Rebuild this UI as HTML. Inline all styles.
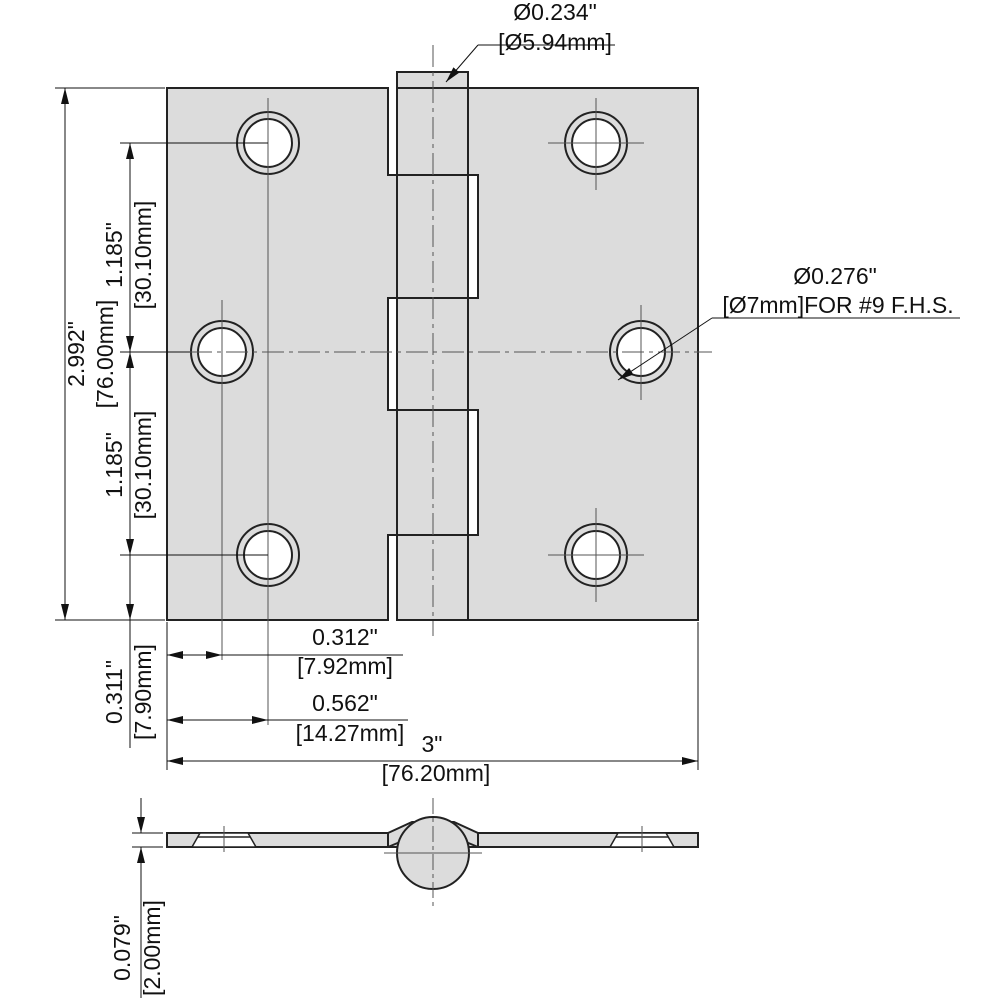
<!DOCTYPE html>
<html><head><style>
html,body{margin:0;padding:0;background:#fff;}
svg{display:block;}
text{font-family:"Liberation Sans",Arial,sans-serif;font-size:23px;fill:#111;}
</style></head><body>
<svg width="1000" height="1000" viewBox="0 0 1000 1000" xmlns="http://www.w3.org/2000/svg">
<defs>
<marker id="a" viewBox="0 0 16 8" refX="16" refY="4" markerWidth="16" markerHeight="8" orient="auto-start-reverse" markerUnits="userSpaceOnUse"><path d="M0,0 L16,4 L0,8 Z" fill="#111"/></marker>
</defs>
<g stroke="#222" stroke-width="2" fill="#dcdcdc">
<path d="M167,88 H388 V175 H397 V298 H388 V410 H397 V535 H388 V620 H167 Z"/>
<path d="M468,88 H698 V620 H468 V535 H478 V410 H468 V298 H478 V175 H468 Z"/>
<rect x="397" y="72" width="71" height="548"/>
<line x1="397" y1="88" x2="468" y2="88"/>
<line x1="397" y1="175" x2="478" y2="175"/>
<line x1="388" y1="298" x2="478" y2="298"/>
<line x1="388" y1="410" x2="478" y2="410"/>
<line x1="397" y1="535" x2="478" y2="535"/>
</g>
<g stroke="#222" stroke-width="2">
<g fill="#dcdcdc">
<circle cx="268" cy="143" r="31"/><circle cx="596" cy="143" r="31"/>
<circle cx="222" cy="352" r="31"/><circle cx="641" cy="352" r="31"/>
<circle cx="268" cy="555" r="31"/><circle cx="596" cy="555" r="31"/>
</g>
<g fill="#fff">
<circle cx="268" cy="143" r="24"/><circle cx="596" cy="143" r="24"/>
<circle cx="222" cy="352" r="24"/><circle cx="641" cy="352" r="24"/>
<circle cx="268" cy="555" r="24"/><circle cx="596" cy="555" r="24"/>
</g>
</g>
<g stroke="#555" stroke-width="1" fill="none">
<line x1="190" y1="352" x2="712" y2="352" stroke-dasharray="22,5,4,5"/>
<line x1="433" y1="45" x2="433" y2="636" stroke-dasharray="22,5,4,5"/>
<line x1="222" y1="300" x2="222" y2="660"/><line x1="268" y1="98" x2="268" y2="725"/>
<line x1="596" y1="98" x2="596" y2="190"/><line x1="548" y1="143" x2="644" y2="143"/>
<line x1="596" y1="508" x2="596" y2="602"/><line x1="548" y1="555" x2="644" y2="555"/>
<line x1="641" y1="305" x2="641" y2="400"/>
</g>
<g stroke="#111" stroke-width="1" fill="none">
<line x1="55" y1="88" x2="165" y2="88"/><line x1="55" y1="620" x2="165" y2="620"/>
<line x1="65" y1="88" x2="65" y2="620" marker-start="url(#a)" marker-end="url(#a)"/>
<line x1="120" y1="143" x2="268" y2="143"/><line x1="120" y1="352" x2="190" y2="352"/><line x1="120" y1="555" x2="268" y2="555"/>
<line x1="130" y1="143" x2="130" y2="352" marker-start="url(#a)" marker-end="url(#a)"/>
<line x1="130" y1="352" x2="130" y2="555" marker-start="url(#a)" marker-end="url(#a)"/>
<line x1="130" y1="555" x2="130" y2="748"/>
<line x1="130" y1="588" x2="130" y2="620" marker-end="url(#a)"/>
<line x1="167" y1="622" x2="167" y2="770"/><line x1="698" y1="622" x2="698" y2="770"/>
<line x1="167" y1="655" x2="222" y2="655" marker-start="url(#a)" marker-end="url(#a)"/>
<line x1="222" y1="655" x2="403" y2="655"/>
<line x1="167" y1="720" x2="268" y2="720" marker-start="url(#a)" marker-end="url(#a)"/>
<line x1="268" y1="720" x2="408" y2="720"/>
<line x1="167" y1="761" x2="698" y2="761" marker-start="url(#a)" marker-end="url(#a)"/>
<line x1="615" y1="45" x2="478" y2="45"/><line x1="478" y1="45" x2="446" y2="82" marker-end="url(#a)"/>
<line x1="960" y1="318" x2="712" y2="318"/><line x1="712" y1="318" x2="618" y2="380" marker-end="url(#a)"/>
</g>
<text x="555" y="20" text-anchor="middle">Ø0.234"</text>
<text x="555" y="50" text-anchor="middle">[Ø5.94mm]</text>
<text x="835" y="284" text-anchor="middle">Ø0.276"</text>
<text x="838" y="313" text-anchor="middle">[Ø7mm]FOR #9 F.H.S.</text>
<text x="345" y="645" text-anchor="middle">0.312"</text>
<text x="345" y="674" text-anchor="middle">[7.92mm]</text>
<text x="345" y="711" text-anchor="middle">0.562"</text>
<text x="350" y="741" text-anchor="middle">[14.27mm]</text>
<text x="432" y="752" text-anchor="middle">3"</text>
<text x="436" y="781" text-anchor="middle">[76.20mm]</text>
<g text-anchor="middle">
<text transform="translate(84,354) rotate(-90)">2.992"</text>
<text transform="translate(113,354) rotate(-90)">[76.00mm]</text>
<text transform="translate(122,255) rotate(-90)">1.185"</text>
<text transform="translate(151,255) rotate(-90)">[30.10mm]</text>
<text transform="translate(122,465) rotate(-90)">1.185"</text>
<text transform="translate(151,465) rotate(-90)">[30.10mm]</text>
<text transform="translate(122,692) rotate(-90)">0.311"</text>
<text transform="translate(151,692) rotate(-90)">[7.90mm]</text>
<text transform="translate(130,948) rotate(-90)">0.079"</text>
<text transform="translate(160,948) rotate(-90)">[2.00mm]</text>
</g>
<!-- side view -->
<g stroke="#222" stroke-width="2" fill="#dcdcdc">
<path d="M388,833 L412,822 L440,822 L454,822 L478,833 L478,847 L388,847 Z"/>
<rect x="167" y="833" width="221" height="14"/>
<rect x="478" y="833" width="220" height="14"/>
<line x1="388" y1="847" x2="400" y2="842"/><line x1="478" y1="847" x2="466" y2="842"/>
<circle cx="433" cy="853" r="36"/>
</g>
<g stroke="#222" stroke-width="1.5" fill="#fff">
<path d="M200,833 H248 L256,847 H192 Z"/><line x1="198" y1="837" x2="250" y2="837"/>
<path d="M618,833 H666 L674,847 H610 Z"/><line x1="616" y1="837" x2="668" y2="837"/>
</g>
<g stroke="#555" stroke-width="1">
<line x1="224" y1="826" x2="224" y2="852"/><line x1="642" y1="826" x2="642" y2="852"/>
<line x1="433" y1="798" x2="433" y2="908" stroke-dasharray="16,4,4,4"/>
<line x1="384" y1="853" x2="482" y2="853"/>
</g>
<g stroke="#111" stroke-width="1">
<line x1="132" y1="833" x2="163" y2="833"/><line x1="132" y1="847" x2="163" y2="847"/>
<line x1="141" y1="798" x2="141" y2="833" marker-end="url(#a)"/>
<line x1="141" y1="998" x2="141" y2="847" marker-end="url(#a)"/>
</g>
</svg>
</body></html>
